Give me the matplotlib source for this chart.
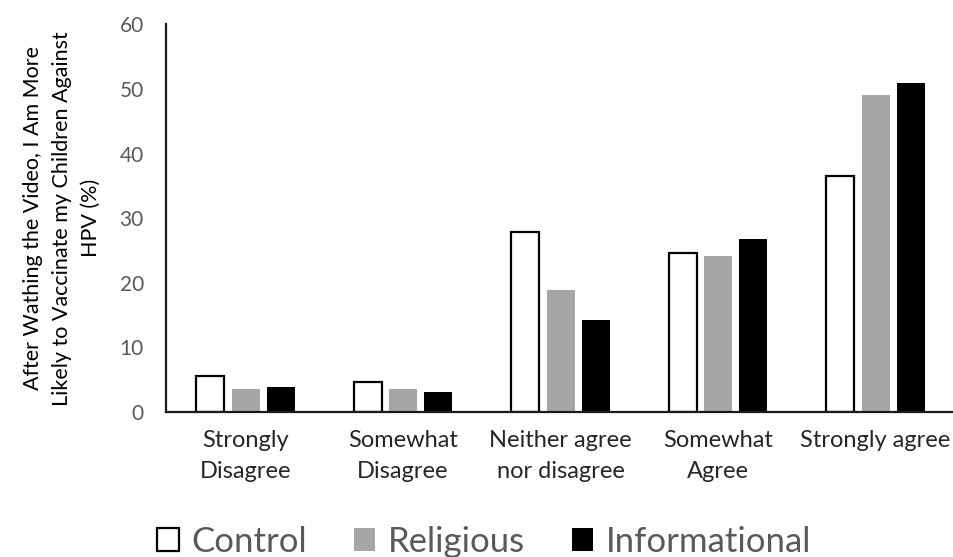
import matplotlib
matplotlib.use("Agg")
import matplotlib.pyplot as plt
import numpy as np
from matplotlib.patches import Patch

categories = ["Strongly\nDisagree", "Somewhat\nDisagree", "Neither agree\nnor disagree",
              "Somewhat\nAgree", "Strongly agree"]
series_names = ["Control", "Religious", "Informational"]
control = [5.6, 4.7, 27.9, 24.6, 36.6]
religious = [3.5, 3.5, 18.9, 24.1, 49.0]
informational = [3.8, 3.1, 14.2, 26.8, 50.9]
yticks = [0, 10, 20, 30, 40, 50, 60]
ylabel = "After Wathing the Video, I Am More\nLikely to Vaccinate my Children Against\nHPV (%)"

plt.rcParams["font.family"] = ["Lato", "DejaVu Sans"]

fig = plt.figure(figsize=(9.54, 5.57), dpi=100)
ax = fig.add_axes([166 / 954, 145 / 557, 788 / 954, 387.7 / 557])

x = np.arange(len(categories))
width = 0.178
step = 0.224
styles = [
    dict(facecolor="white", edgecolor="black", linewidth=1.6),
    dict(facecolor="#a6a6a6", edgecolor="none"),
    dict(facecolor="black", edgecolor="none"),
]
for i, (vals, st) in enumerate(zip([control, religious, informational], styles)):
    ax.bar(x + (i - 1) * step, vals, width, **st)

ax.set_xlim(-0.505, 4.498)
ax.set_ylim(0, 60)
ax.set_yticks(yticks)
ax.set_yticklabels([str(t) for t in yticks], fontsize=15, color="#595959")
ax.set_xticks(x)
ax.set_xticklabels(categories, fontsize=17, color="#262626", linespacing=1.6)
ax.tick_params(axis="both", length=0)
ax.tick_params(axis="y", pad=16)
ax.tick_params(axis="x", pad=13)

for side in ["top", "right"]:
    ax.spines[side].set_visible(False)
for side in ["left", "bottom"]:
    ax.spines[side].set_linewidth(1.6)
    ax.spines[side].set_color("#1a1a1a")

ax.set_ylabel(ylabel, fontsize=15.5, color="black", linespacing=1.55)
ax.yaxis.set_label_coords(-0.083, 0.5)

handles = [Patch(**styles[0]), Patch(**styles[1]), Patch(**styles[2])]
handles[0].set_linewidth(1.6)
fig.legend(handles, series_names, loc="center", bbox_to_anchor=(484 / 954, 1 - 542 / 557),
           ncol=3, frameon=False, fontsize=25, labelcolor="#595959", borderpad=0,
           handlelength=0.63, handleheight=0.63, handletextpad=0.35, columnspacing=1.35)

fig.savefig("out.png", dpi=100)
